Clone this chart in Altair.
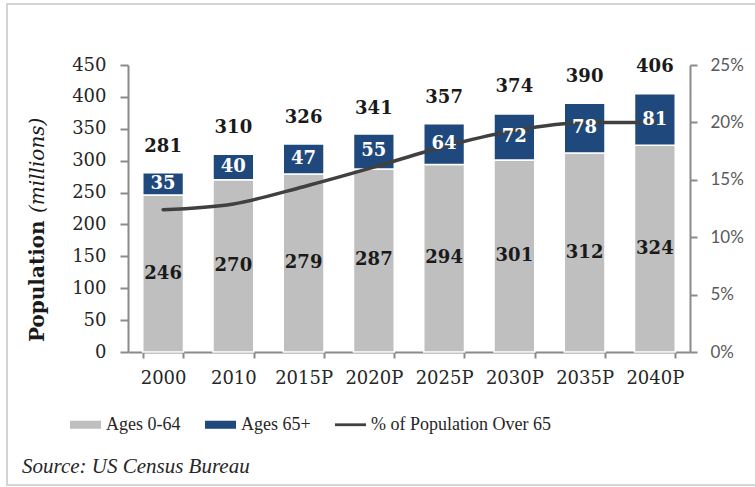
import altair as alt
import pandas as pd

# ---- data ----
years = ["2000", "2010", "2015P", "2020P", "2025P", "2030P", "2035P", "2040P"]
ages_0_64 = [246, 270, 279, 287, 294, 301, 312, 324]
ages_65_plus = [35, 40, 47, 55, 64, 72, 78, 81]
totals = [281, 310, 326, 341, 357, 374, 390, 406]
pct_over_65 = [12.4, 12.9, 14.4, 16.1, 17.9, 19.3, 20.0, 20.0]
series_names = ["Ages 0-64", "Ages 65+", "% of Population Over 65"]
left_ticks = [0, 50, 100, 150, 200, 250, 300, 350, 400, 450]
right_ticks = [0, 5, 10, 15, 20, 25]

rows = []
for yr, a, b in zip(years, ages_0_64, ages_65_plus):
    rows.append({"year": yr, "series": series_names[0], "value": a, "ord": 0})
    rows.append({"year": yr, "series": series_names[1], "value": b, "ord": 1})
bars_df = pd.DataFrame(rows)

wide_df = pd.DataFrame({
    "year": years,
    "young": ages_0_64,
    "old": ages_65_plus,
    "total": totals,
    "pct": pct_over_65,
    "series": series_names[2],
})
wide_df["young_mid"] = wide_df["young"] / 2
wide_df["old_mid"] = wide_df["young"] + wide_df["old"] / 2

legend_df = pd.DataFrame({"series": series_names})

SERIF = "DejaVu Serif"
AXIS_GRAY = "#8a8a8a"

x_enc = alt.X(
    "year:N", sort=years,
    scale=alt.Scale(paddingInner=0.42, paddingOuter=0.21),
    axis=alt.Axis(title=None, labelAngle=0, labelFont=SERIF, labelFontSize=18,
                  labelColor="#262626", tickBand="extent", tickSize=6,
                  labelPadding=11, domainColor=AXIS_GRAY, domainWidth=2,
                  tickColor=AXIS_GRAY, tickWidth=2),
)

color_scale = alt.Scale(domain=series_names, range=["#bfbfbf", "#1f497d", "#404040"])
shape_scale = alt.Scale(domain=series_names,
                        range=["M-1,-0.26H1V0.26H-1Z", "M-1,-0.26H1V0.26H-1Z", "M-1,-0.09H1V0.09H-1Z"])

legend = alt.Legend(
    title=None, orient="none", legendX=-58, legendY=344, direction="horizontal",
    labelFont="Liberation Serif", labelFontSize=18, labelColor="#262626",
    symbolSize=961, columnPadding=24, labelOffset=5, symbolStrokeWidth=0,
    symbolOpacity=1, labelLimit=400,
)

left_scale = alt.Scale(domain=[0, 450])

bars = alt.Chart(bars_df).mark_bar(stroke="white", strokeWidth=1.5).encode(
    x=x_enc,
    y=alt.Y("value:Q", stack="zero", scale=left_scale,
            axis=alt.Axis(title=None, values=left_ticks, grid=False, labelFont=SERIF,
                          labelFontSize=18, labelColor="#262626", tickSize=8,
                          labelPadding=14, domainColor=AXIS_GRAY, domainWidth=2,
                          tickColor=AXIS_GRAY, tickWidth=2, orient="left")),
    color=alt.Color("series:N", scale=color_scale, legend=legend),
    order=alt.Order("ord:Q"),
)

line = alt.Chart(wide_df).mark_line(strokeWidth=3.5, interpolate="monotone", strokeCap="round").encode(
    x=x_enc,
    y=alt.Y("pct:Q", scale=alt.Scale(domain=[0, 25]),
            axis=alt.Axis(title=None, orient="right", values=right_ticks, grid=False,
                          labelExpr="datum.value + '%'", labelFont="Lato",
                          labelFontSize=17, labelColor="#595959", tickSize=7,
                          labelPadding=13, domainColor=AXIS_GRAY, domainWidth=2,
                          tickColor=AXIS_GRAY, tickWidth=2)),
    color=alt.Color("series:N", scale=color_scale, legend=legend),
)

# invisible layer that gives the legend its bar / line symbol shapes
legend_layer = alt.Chart(legend_df).mark_point(filled=True, opacity=0, size=961, strokeWidth=0).encode(
    x=alt.value(0), y=alt.value(0),
    color=alt.Color("series:N", scale=color_scale, legend=legend),
    shape=alt.Shape("series:N", scale=shape_scale, legend=legend),
)

label_style = dict(font=SERIF, fontSize=18, fontWeight="bold", baseline="middle", align="center")

young_labels = alt.Chart(wide_df).mark_text(color="#1a1a1a", **label_style).encode(
    x=x_enc, y=alt.Y("young_mid:Q", scale=left_scale, axis=None), text="young:Q")
old_labels = alt.Chart(wide_df).mark_text(color="white", **label_style).encode(
    x=x_enc, y=alt.Y("old_mid:Q", scale=left_scale, axis=None), text="old:Q")
total_labels = alt.Chart(wide_df).mark_text(color="#1a1a1a", dy=-26, **label_style).encode(
    x=x_enc, y=alt.Y("total:Q", scale=left_scale, axis=None), text="total:Q")

one = alt.Data(values=[{}])

border = alt.Chart(one).mark_rect(fillOpacity=0, stroke="#d4d4d4", strokeWidth=2).encode(
    x=alt.value(-121), x2=alt.value(680), y=alt.value(-61), y2=alt.value(420))

title_pop = alt.Chart(one).mark_text(
    text="Population", angle=270, align="left", baseline="middle",
    font=SERIF, fontSize=20, fontWeight="bold", color="#1a1a1a",
).encode(x=alt.value(-90), y=alt.value(277))

title_mil = alt.Chart(one).mark_text(
    text="(millions)", angle=270, align="left", baseline="middle",
    font=SERIF, fontSize=20, fontStyle="italic", color="#1a1a1a",
).encode(x=alt.value(-90), y=alt.value(148))

source = alt.Chart(one).mark_text(
    text="Source: US Census Bureau", align="left", baseline="middle",
    font="Liberation Serif", fontSize=21, fontStyle="italic", color="#262626",
).encode(x=alt.value(-106), y=alt.value(402))

chart = alt.layer(
    border, bars, line, young_labels, old_labels, total_labels,
    title_pop, title_mil, source, legend_layer,
).resolve_scale(y="independent").properties(
    width=562, height=287,
    autosize=alt.AutoSizeParams(type="none"),
    padding={"left": 128, "top": 65, "right": 65, "bottom": 135},
    background="white",
).configure_view(strokeWidth=0)

chart.save("out.html", embed_options={"renderer": "svg", "actions": False})
